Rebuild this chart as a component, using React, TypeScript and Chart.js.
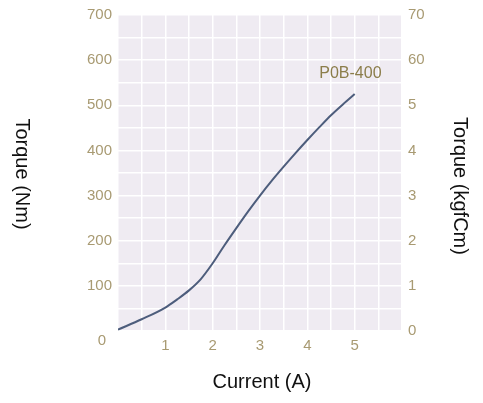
import React, { useEffect, useRef } from "react";
import { Chart, registerables } from "chart.js";

Chart.register(...registerables);

const currentA = [0, 0.5, 1.0, 1.25, 1.5, 1.75, 2.0, 2.25, 2.5, 2.75, 3.0, 3.25, 3.5, 3.75, 4.0, 4.25, 4.5, 4.75, 5.0];
const torqueNm = [3, 26, 52, 70, 90, 115, 150, 190, 228, 265, 300, 333, 364, 394, 423, 451, 478, 502, 525];
const seriesLabel = "P0B-400";
const labelPos = { x: 4.91, y: 571 };
const xTitle = "Current (A)";
const yLeftTitle = "Torque (Nm)";
const yRightTitle = "Torque (kgfCm)";

const TICK_COLOR = "#a89a72";
const FONT = "'Liberation Sans', Arial, Helvetica, sans-serif";

export default function App() {
  const ref = useRef<HTMLCanvasElement>(null);
  useEffect(() => {
    if (!ref.current) return;
    const bgPlugin = {
      id: "bg",
      beforeDraw(chart: any) {
        const { ctx, chartArea: a } = chart;
        ctx.save();
        ctx.fillStyle = "#efebf2";
        ctx.fillRect(a.left, a.top, a.right - a.left, a.bottom - a.top);
        ctx.restore();
      },
      afterDraw(chart: any) {
        const { ctx, chartArea: a, scales } = chart;
        ctx.save();
        // zero label of left axis, dropped below the baseline as in the source
        ctx.fillStyle = TICK_COLOR;
        ctx.font = `15px ${FONT}`;
        ctx.textAlign = "right";
        ctx.textBaseline = "middle";
        ctx.fillText("0", scales.y.right - 12, scales.y.getPixelForValue(0) + 10);

        ctx.fillStyle = "#111";
        ctx.font = `20px ${FONT}`;
        ctx.textAlign = "center";
        ctx.fillText(xTitle, 262, 382);
        ctx.save();
        ctx.translate(22, (a.top + a.bottom) / 2 + 1);
        ctx.rotate(Math.PI / 2);
        ctx.fillText(yLeftTitle, 0, 0);
        ctx.restore();
        ctx.save();
        ctx.translate(460, (a.top + a.bottom) / 2 + 13);
        ctx.rotate(Math.PI / 2);
        ctx.fillText(yRightTitle, 0, 0);
        ctx.restore();
        ctx.fillStyle = "#8b7d4a";
        ctx.font = `16px ${FONT}`;
        ctx.fillText(seriesLabel, scales.x.getPixelForValue(labelPos.x), scales.y.getPixelForValue(labelPos.y));
        ctx.restore();
      },
    };
    const chart = new Chart(ref.current, {
      type: "line",
      data: {
        datasets: [
          {
            label: seriesLabel,
            data: currentA.map((x, i) => ({ x, y: torqueNm[i] })),
            borderColor: "#4d5d7c",
            borderWidth: 2,
            pointRadius: 0,
            cubicInterpolationMode: "monotone",
            yAxisID: "y",
          },
        ],
      },
      options: {
        responsive: false,
        animation: false,
        layout: { padding: { top: 15, left: 0, right: 0, bottom: 0 } },
        plugins: { legend: { display: false }, tooltip: { enabled: false } },
        scales: {
          x: {
            type: "linear",
            min: 0,
            max: 6,
            afterFit: (s: any) => { s.height = 72; },
            grid: { color: "#ffffff", lineWidth: 1.5, drawTicks: false },
            border: { display: false },
            ticks: {
              stepSize: 0.5,
              autoSkip: false,
              maxRotation: 0,
              padding: 6,
              color: TICK_COLOR,
              font: { size: 15, family: FONT },
              callback: (v: any) => (Number.isInteger(v) && v >= 1 && v <= 5 ? String(v) : ""),
            },
          },
          y: {
            position: "left",
            min: 0,
            max: 700,
            afterFit: (s: any) => { s.width = 118; },
            grid: { color: "#ffffff", lineWidth: 1.5, drawTicks: false },
            border: { display: false },
            ticks: {
              stepSize: 50,
              autoSkip: false,
              padding: 6,
              color: TICK_COLOR,
              font: { size: 15, family: FONT },
              callback: (v: any) => (v % 100 === 0 && v > 0 ? String(v) : ""),
            },
          },
          y2: {
            position: "right",
            min: 0,
            max: 70,
            afterFit: (s: any) => { s.width = 81; },
            grid: { display: false, drawTicks: false },
            border: { display: false },
            ticks: {
              stepSize: 10,
              autoSkip: false,
              padding: 6,
              color: TICK_COLOR,
              font: { size: 15, family: FONT },
              callback: (v: any) => (v >= 60 ? String(v) : String(v / 10)),
            },
          },
        },
      },
      plugins: [bgPlugin],
    } as any);
    return () => chart.destroy();
  }, []);
  return (
    <div style={{ position: "fixed", left: 0, top: 0, width: 483, height: 403, background: "#fff" }}>
      <canvas ref={ref} width={483} height={403} />
    </div>
  );
}
